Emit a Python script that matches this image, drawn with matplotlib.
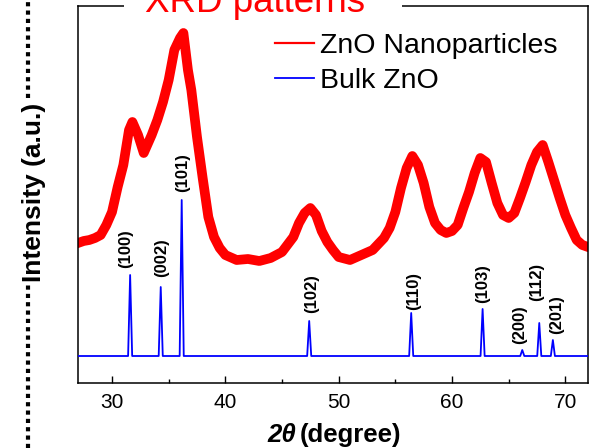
import matplotlib
matplotlib.use("Agg")
import matplotlib.pyplot as plt
from matplotlib.lines import Line2D
from matplotlib.patches import Rectangle

plt.rcParams['font.family'] = ['Liberation Sans', 'DejaVu Sans']

# ---- data: ZnO nanoparticles (a.u.) ----
np_two_theta = [27.0, 27.5, 28.0, 28.5, 29.0, 29.5, 30.0, 30.5, 31.0, 31.5, 31.8,
                32.3, 32.8, 33.5, 34.0, 34.5, 35.0, 35.5, 36.0, 36.3, 36.7, 37.0,
                37.5, 38.0, 38.5, 39.0, 39.5, 40.0, 41.0, 42.0, 43.0, 44.0, 45.0,
                46.0, 46.5, 47.0, 47.5, 48.0, 48.5, 49.0, 49.5, 50.0, 51.0, 52.0,
                53.0, 54.0, 54.5, 55.0, 55.5, 56.0, 56.5, 57.0, 57.5, 58.0, 58.5,
                59.0, 59.5, 60.0, 60.5, 61.0, 61.5, 62.0, 62.5, 63.0, 63.5, 64.0,
                64.5, 65.0, 65.5, 66.0, 66.5, 67.0, 67.5, 68.0, 68.5, 69.0, 69.5,
                70.0, 70.5, 71.0, 71.5, 72.0]
np_intensity = [140, 142, 143, 145, 148, 158, 171, 196, 218, 253, 261,
                248, 230, 248, 263, 281, 303, 333, 345, 350, 313, 293,
                246, 205, 166, 146, 135, 128, 123, 124, 122, 125, 131,
                146, 160, 170, 175, 168, 152, 141, 133, 126, 123, 128,
                133, 145, 155, 171, 195, 215, 227, 218, 200, 176, 160,
                153, 150, 152, 158, 175, 191, 210, 225, 221, 200, 180,
                168, 165, 170, 185, 201, 218, 231, 238, 221, 203, 185,
                168, 155, 143, 138, 136]

# ---- data: bulk ZnO reference peaks ----
bulk_baseline = 27
bulk_peaks = [31.6, 34.3, 36.15, 47.4, 56.4, 62.7, 66.2, 67.7, 68.9]
bulk_heights = [108, 96, 183, 62, 70, 74, 33, 60, 43]
bulk_hkl = ['(100)', '(002)', '(101)', '(102)', '(110)', '(103)', '(200)', '(112)', '(201)']

x_ticks = [30, 40, 50, 60, 70]
x_minor = [35, 45, 55, 65]

# ---- styles ----
label_dx = [-3, 1, 1, 2, 2, 0, -2, -2, 3]      # points
label_dy = [5, 7, 6, 6, 2, 4, 4, 16, 4]         # points
peak_half_width = 0.18

W, H = 594, 448
fig = plt.figure(figsize=(W / 100, H / 100), dpi=100)
ax = fig.add_axes([78 / W, 1 - 383 / H, (588 - 78) / W, (383 - 6) / H])

# bulk stick pattern built from the peak list
bx = [27.0]
by = [bulk_baseline]
for p, h in zip(bulk_peaks, bulk_heights):
    bx += [p - peak_half_width, p, p + peak_half_width]
    by += [bulk_baseline, h, bulk_baseline]
bx.append(72.0)
by.append(bulk_baseline)

ax.plot(np_two_theta, np_intensity, color='#ff0000', lw=7, solid_joinstyle='round', zorder=2)
ax.plot(bx, by, color='#0000ff', lw=1.3, zorder=3)

for p, h, lab, dx, dy in zip(bulk_peaks, bulk_heights, bulk_hkl, label_dx, label_dy):
    ax.annotate(lab, xy=(p, h), xytext=(dx, dy), textcoords='offset points',
                rotation=90, ha='center', va='bottom', fontsize=12,
                fontweight='bold')

ax.set_xlim(27, 72)
ax.set_ylim(0, 377)
ax.set_xticks(x_ticks)
ax.set_xticks(x_minor, minor=True)
ax.set_yticks([])
ax.tick_params(axis='x', which='major', direction='in', length=5, width=1,
               labelsize=15, pad=7)
ax.tick_params(axis='x', which='minor', direction='in', length=3, width=1)
for s in ax.spines.values():
    s.set_linewidth(1.1)

handles = [Line2D([], [], color='#ff0000', lw=1.6),
           Line2D([], [], color='#0000ff', lw=1.3)]
ax.legend(handles, ['ZnO Nanoparticles', 'Bulk ZnO'], loc='upper left',
          bbox_to_anchor=((275 - 78) / (588 - 78), 1 - 27 / 377),
          frameon=False, fontsize=20.5, handlelength=1.37, handletextpad=0.21,
          labelspacing=0.3, borderpad=0, borderaxespad=0)

# title box (cut off at the top of the image)
fig.patches.append(Rectangle((124 / W, 1 - 14 / H), (402 - 124) / W, 14 / H,
                             transform=fig.transFigure, facecolor='white',
                             edgecolor='none', zorder=5))
fig.text(145 / W, 1 - 12 / H, 'XRD patterns', color='#ff0000', fontsize=26.5,
         ha='left', va='baseline', zorder=6)

# dotted frame line at the left
fig.add_artist(Line2D([28 / W, 28 / W], [0, 1], transform=fig.transFigure,
                      color='black', lw=3, linestyle=(0, (1, 1)), zorder=1))

# axis labels
fig.text(34 / W, 1 - 192 / H, 'Intensity (a.u.)', rotation=90, ha='center',
         va='center', fontsize=19, fontweight='bold', zorder=6,
         bbox=dict(facecolor='white', edgecolor='none', pad=1))
fig.text(296 / W, 1 - 442 / H, '2θ', fontsize=18.5, fontweight='bold',
         style='italic', ha='right', va='baseline')
fig.text(300 / W, 1 - 442 / H, '(degree)', fontsize=18.5, fontweight='bold',
         ha='left', va='baseline')

fig.savefig('out.png', dpi=100)
